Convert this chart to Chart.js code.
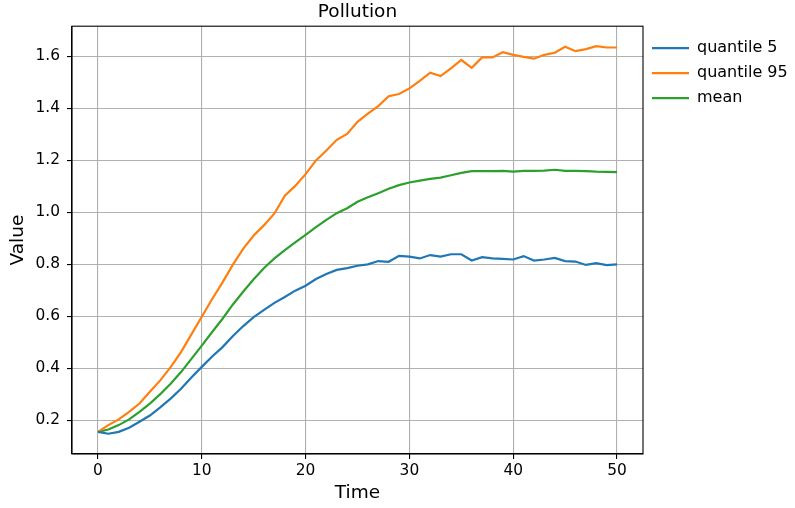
<!DOCTYPE html>
<html>
<head>
<meta charset="utf-8">
<title>Pollution</title>
<script src="https://cdn.jsdelivr.net/npm/chart.js@4"></script>
<style>
  html, body { margin: 0; padding: 0; background: #fff; }
  #chart { display: block; }
</style>
</head>
<body>
<canvas id="chart" width="795" height="508"></canvas>
<script>
// valores (t = 0..50)
const times = [0, 1, 2, 3, 4, 5, 6, 7, 8, 9, 10, 11, 12, 13, 14, 15, 16, 17, 18, 19, 20,
  21, 22, 23, 24, 25, 26, 27, 28, 29, 30, 31, 32, 33, 34, 35, 36, 37, 38, 39, 40,
  41, 42, 43, 44, 45, 46, 47, 48, 49, 50];

const quantile5 = [0.155, 0.148, 0.155, 0.171, 0.194, 0.218, 0.249, 0.283, 0.321, 0.364, 0.405,
  0.445, 0.481, 0.524, 0.562, 0.596, 0.624, 0.651, 0.674, 0.698, 0.717,
  0.743, 0.762, 0.778, 0.785, 0.794, 0.799, 0.812, 0.809, 0.832, 0.829,
  0.822, 0.835, 0.829, 0.838, 0.838, 0.814, 0.827, 0.822, 0.820, 0.818,
  0.831, 0.814, 0.818, 0.824, 0.812, 0.810, 0.797, 0.804, 0.796, 0.799];

const quantile95 = [0.155, 0.181, 0.203, 0.232, 0.264, 0.309, 0.353, 0.404, 0.462, 0.530, 0.598,
  0.666, 0.730, 0.798, 0.860, 0.910, 0.950, 0.995, 1.063, 1.101, 1.146,
  1.199, 1.237, 1.278, 1.301, 1.347, 1.379, 1.408, 1.446, 1.454, 1.476,
  1.505, 1.536, 1.523, 1.553, 1.585, 1.555, 1.595, 1.595, 1.615, 1.605,
  1.597, 1.590, 1.605, 1.613, 1.636, 1.619, 1.627, 1.638, 1.633, 1.633];

const meanValues = [0.155, 0.164, 0.181, 0.203, 0.232, 0.264, 0.300, 0.340, 0.385, 0.436, 0.487,
  0.539, 0.590, 0.645, 0.695, 0.742, 0.785, 0.822, 0.854, 0.884, 0.913,
  0.942, 0.970, 0.996, 1.015, 1.040, 1.057, 1.073, 1.090, 1.104, 1.114,
  1.121, 1.128, 1.133, 1.142, 1.151, 1.158, 1.158, 1.158, 1.159, 1.156,
  1.159, 1.159, 1.160, 1.163, 1.159, 1.159, 1.158, 1.156, 1.155, 1.154];

const seriesNames = ['quantile 5', 'quantile 95', 'mean'];
const seriesColors = ['#1f77b4', '#ff7f0e', '#2ca02c'];

const xTicks = [0, 10, 20, 30, 40, 50];
const yTicks = [0.2, 0.4, 0.6, 0.8, 1.0, 1.2, 1.4, 1.6];

const font = 'DejaVu Sans';

function pontos(valores) {
  return times.map((t, i) => ({ x: t, y: valores[i] }));
}

// moldura completa (spines de cima e da direita)
const moldura = {
  id: 'moldura',
  beforeDraw(chart) {
    const ctx = chart.ctx;
    ctx.save();
    ctx.fillStyle = '#fff';
    ctx.fillRect(0, 0, chart.width, chart.height);
    ctx.restore();
  },
  afterDatasetsDraw(chart) {
    const a = chart.chartArea;
    const ctx = chart.ctx;
    ctx.save();
    ctx.strokeStyle = '#000';
    ctx.lineWidth = 1.1;
    ctx.strokeRect(a.left, a.top, a.right - a.left, a.bottom - a.top);
    ctx.restore();
  }
};

const datasets = [quantile5, quantile95, meanValues].map((vals, i) => ({
  label: seriesNames[i],
  data: pontos(vals),
  borderColor: seriesColors[i],
  backgroundColor: seriesColors[i],
  borderWidth: 2.2,
  pointRadius: 0,
  tension: 0,
  fill: false
}));

const config = {
  type: 'line',
  data: { datasets: datasets },
  options: {
    responsive: false,
    animation: false,
    devicePixelRatio: 1,
    layout: { padding: { left: 0, right: 7, top: 0, bottom: 0 } },
    plugins: {
      title: {
        display: true,
        text: 'Pollution',
        fullSize: false,
        color: '#000',
        font: { family: font, size: 18.5, weight: 'normal' },
        padding: { top: 1, bottom: 3 }
      },
      legend: {
        position: 'right',
        align: 'start',
        fullSize: false,
        maxWidth: 145,
        title: { display: true, text: '', font: { size: 5, lineHeight: 1 }, padding: 0 },
        labels: {
          usePointStyle: true,
          pointStyle: 'line',
          pointStyleWidth: 37,
          boxHeight: 16,
          padding: 9,
          color: '#000',
          font: { family: font, size: 16 }
        }
      },
      tooltip: { enabled: false }
    },
    scales: {
      x: {
        type: 'linear',
        min: -2.5,
        max: 52.5,
        afterFit: s => { s.height = 54; },
        afterBuildTicks: s => { s.ticks = xTicks.map(v => ({ value: v })); },
        ticks: {
          color: '#000',
          padding: 3,
          maxRotation: 0,
          font: { family: font, size: 15.4 },
          callback: v => String(v)
        },
        grid: { color: '#b0b0b0', lineWidth: 1.1, tickColor: '#000', tickLength: 5, tickWidth: 1.1 },
        border: { color: '#000', width: 1.1 },
        title: {
          display: true,
          text: 'Time',
          color: '#000',
          font: { family: font, size: 18.5 },
          padding: { top: 0, bottom: 4 }
        }
      },
      y: {
        type: 'linear',
        min: 0.07,
        max: 1.715,
        afterFit: s => { s.width = 72; },
        afterBuildTicks: s => { s.ticks = yTicks.map(v => ({ value: v })); },
        ticks: {
          color: '#000',
          padding: 7,
          font: { family: font, size: 15.4 },
          callback: v => Number(v).toFixed(1)
        },
        grid: { color: '#b0b0b0', lineWidth: 1.1, tickColor: '#000', tickLength: 5, tickWidth: 1.1 },
        border: { color: '#000', width: 1.1 },
        title: {
          display: true,
          text: 'Value',
          color: '#000',
          font: { family: font, size: 18.5 },
          padding: { top: 7, bottom: 0 }
        }
      }
    }
  },
  plugins: [moldura]
};

new Chart(document.getElementById('chart'), config);
</script>
</body>
</html>
